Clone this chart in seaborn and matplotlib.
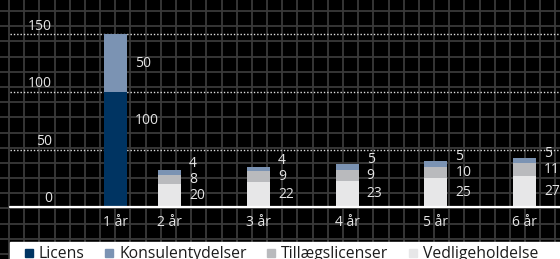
import numpy as np
import pandas as pd
import matplotlib
matplotlib.use("Agg")
import matplotlib.pyplot as plt
from matplotlib.lines import Line2D
from matplotlib.patches import Rectangle
import seaborn as sns

# ---------------- data ----------------
categories = ["1 år", "2 år", "3 år", "4 år", "5 år", "6 år"]
licens = [100, 0, 0, 0, 0, 0]
vedligeholdelse = [0, 20, 22, 23, 25, 27]
tillaegslicenser = [0, 8, 9, 9, 10, 11]
konsulentydelser = [50, 4, 4, 5, 5, 5]
y_ticks = [0, 50, 100, 150]
series_names = ["Licens", "Konsulentydelser", "Tillægslicenser", "Vedligeholdelse"]

# ---------------- layout / style ----------------
x_pos = [0.0, 0.61, 1.61, 2.61, 3.61, 4.61]   # category positions (uneven spacing as in reference)
px_per_unit = 88.72
bar_px = 23
colors = {
    "Licens": "#003462",
    "Konsulentydelser": "#7b93b3",
    "Tillægslicenser": "#b9babd",
    "Vedligeholdelse": "#e7e7e8",
}
light = "#e4e4e4"

sns.set_theme(style="white")
plt.rcParams["font.family"] = ["Open Sans", "DejaVu Sans"]

W, H = 560, 259
fig = plt.figure(figsize=(W / 100, H / 100), dpi=100)
fig.patch.set_facecolor("black")

# decorative graph-paper background
bg = fig.add_axes([0, 0, 1, 1], zorder=-5)
bg.set_xlim(0, W)
bg.set_ylim(H, 0)
bg.axis("off")
bg.set_facecolor("black")
bg.vlines(np.arange(9, W + 1, 15.18), 0, H, color="#3a3a3a", lw=1.3)
bg.hlines(np.arange(11, H + 1, 15.19), 0, W, color="#3a3a3a", lw=1.3)
bg.add_patch(Rectangle((10, 241.7), W - 10, 20, color="white", zorder=5))

# main axes: x from px 10 to 560, y from px 207 (value 0) to top
ax_left, ax_bottom = 10 / W, (H - 207) / H
ax = fig.add_axes([ax_left, ax_bottom, 1 - ax_left, 207 / H])
ax.set_facecolor("none")

df = pd.DataFrame({
    "x": x_pos,
    "Licens": licens,
    "Vedligeholdelse": vedligeholdelse,
    "Tillægslicenser": tillaegslicenser,
    "Konsulentydelser": konsulentydelser,
})
stack_order = ["Licens", "Vedligeholdelse", "Tillægslicenser", "Konsulentydelser"]  # bottom -> top
cum = df[stack_order].cumsum(axis=1)

min_gap = np.min(np.diff(x_pos))
width = (bar_px / px_per_unit) / min_gap
for name in reversed(stack_order):
    sns.barplot(x=df["x"], y=cum[name], native_scale=True, orient="x", color=colors[name],
                saturation=1, width=width, errorbar=None, linewidth=0, ax=ax, zorder=3)

xlim = ((10 - 115.5) / px_per_unit, (W - 115.5) / px_per_unit)
ax.set_xlim(*xlim)
ax.set_ylim(0, 207 / 1.15)

# reference lines
for v in y_ticks[1:]:
    ax.axhline(v, color="#e0e0e0", lw=1.0, linestyle=(0, (1, 1.4)), zorder=2)
ax.axhline(0, color="white", lw=1.6, zorder=4, clip_on=False)

# y labels above lines
for v in y_ticks:
    ax.annotate(str(v), xy=((52 - 10) / (W - 10), v), xycoords=("axes fraction", "data"),
                xytext=(0, 3.4), textcoords="offset points", ha="right", va="baseline",
                color=light, fontsize=10)

# x tick labels
ax.set_xticks(x_pos)
ax.set_xticklabels(categories, color=light, fontsize=10)
ax.tick_params(axis="x", length=0, pad=5.5)
ax.set_yticks([])
ax.set_ylabel("")
ax.set_xlabel("")
for s in ax.spines.values():
    s.set_visible(False)

# value labels
bar_half = (bar_px / 2) / px_per_unit
label_gap = 14
for i, xp in enumerate(x_pos):
    bottom = 0
    prev = -1e9
    for name in stack_order:
        val = df[name][i]
        if val <= 0:
            continue
        frac = 0.75 if name == "Licens" else 0.5
        y = bottom + val * frac
        if y - prev < label_gap:
            y = prev + label_gap
        prev = y
        ax.annotate(str(val), xy=(xp + bar_half, y), xytext=(5.8, 0), textcoords="offset points",
                    ha="left", va="center", color=light, fontsize=10, zorder=6)
        bottom += val

# legend
handles = [Line2D([], [], marker="s", linestyle="", color=colors[n], markersize=5.8) for n in series_names]
leg = fig.legend(handles, series_names, ncol=4, loc="lower left", bbox_to_anchor=(22.3 / W, -3.5 / H),
                 frameon=False, fontsize=11.3, handlelength=0.8, handletextpad=0.25,
                 columnspacing=1.15, borderpad=0, borderaxespad=0)
for t in leg.get_texts():
    t.set_color("#1c1c1c")
leg.set_zorder(10)

fig.savefig("out.png", dpi=100, facecolor=fig.get_facecolor())
